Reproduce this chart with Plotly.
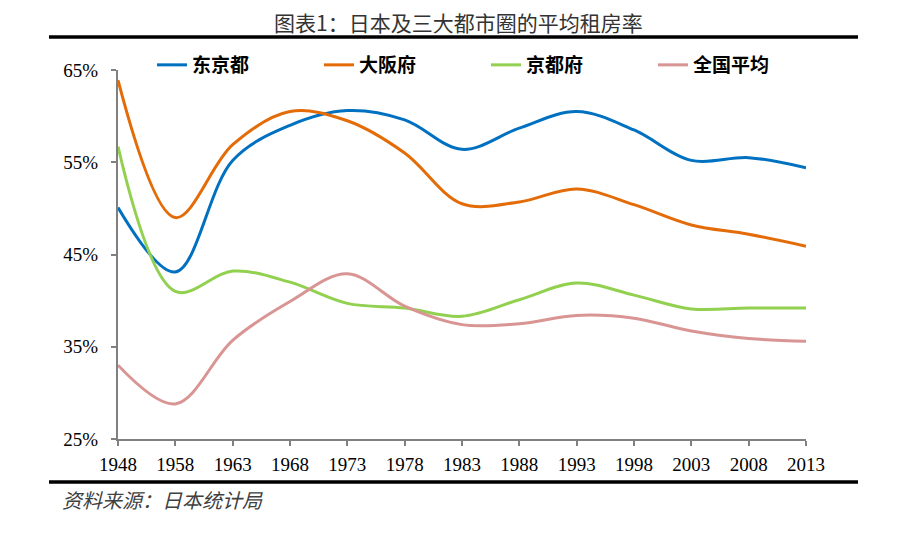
import plotly.graph_objects as go

years = ["1948", "1958", "1963", "1968", "1973", "1978", "1983", "1988", "1993", "1998", "2003", "2008", "2013"]
tokyo = [50.1, 43.1, 55.2, 59.0, 60.6, 59.6, 56.4, 58.7, 60.5, 58.5, 55.2, 55.5, 54.4]
osaka = [63.9, 49.0, 56.9, 60.5, 59.5, 56.0, 50.5, 50.7, 52.1, 50.4, 48.2, 47.2, 45.9]
kyoto = [56.7, 41.0, 43.2, 42.0, 39.7, 39.2, 38.3, 40.1, 41.9, 40.6, 39.1, 39.2, 39.2]
national = [33.0, 28.8, 35.7, 39.9, 42.9, 39.4, 37.4, 37.5, 38.4, 38.1, 36.7, 35.9, 35.6]

series_names = ["东京都", "大阪府", "京都府", "全国平均"]
series_values = [tokyo, osaka, kyoto, national]
colors = ["#0070C0", "#E36C09", "#92D050", "#D99594"]

title_text = "图表1：日本及三大都市圈的平均租房率"
source_text = "资料来源：日本统计局"

fig = go.Figure()
for name, vals, c in zip(series_names, series_values, colors):
    fig.add_trace(go.Scatter(
        x=years, y=vals, name=name, mode="lines",
        line=dict(color=c, width=3, shape="spline", smoothing=1.0),
    ))

# page body has an 8px margin; work in reference pixel coordinates minus that
OFF = 8
W, H = 898 - OFF, 546 - OFF
L, R, T, B = 118 - OFF, 806 - OFF, 70 - OFF, 439 - OFF
pw, ph = R - L, B - T

def px(x):
    return (x - OFF - L) / pw

def py(y):
    return (B - (y - OFF)) / ph

fig.update_layout(
    width=W, height=H,
    margin=dict(l=L, r=W - R, t=T, b=H - B),
    paper_bgcolor="white", plot_bgcolor="white",
    font=dict(family="Liberation Serif, Times New Roman, serif", size=19, color="black"),
    showlegend=True,
    legend=dict(
        orientation="h", x=px(152), xanchor="left", y=py(65), yanchor="middle",
        font=dict(family="Noto Sans CJK SC", size=19, color="black", weight="bold"),
        entrywidth=122, bgcolor="rgba(0,0,0,0)", tracegroupgap=0,
    ),
    xaxis=dict(
        type="category", range=[0, len(years) - 1],
        showline=True, linecolor="#808080", linewidth=2,
        ticks="outside", ticklen=5, tickcolor="#808080", tickwidth=2,
        showgrid=False, zeroline=False, ticklabelstandoff=2,
        tickfont=dict(family="Liberation Serif", size=19, color="black"),
    ),
    yaxis=dict(
        range=[25, 65], tickvals=[25, 35, 45, 55, 65],
        ticktext=["25%", "35%", "45%", "55%", "65%"],
        showline=True, linecolor="#808080", linewidth=2,
        ticks="outside", ticklen=5, tickcolor="#808080", tickwidth=2,
        showgrid=False, zeroline=False, ticklabelstandoff=9,
        tickfont=dict(family="Liberation Serif", size=19, color="black"),
    ),
)

# header and footer rules
for yy in (37, 482):
    fig.add_shape(type="line", xref="paper", yref="paper",
                  x0=px(49), x1=px(858), y0=py(yy), y1=py(yy),
                  line=dict(color="black", width=3.5))

fig.add_annotation(text=title_text, xref="paper", yref="paper",
                   x=px(458), y=py(22), xanchor="center", yanchor="middle",
                   showarrow=False, borderpad=0,
                   font=dict(family="Noto Sans CJK SC", size=21, color="#333333"))
fig.add_annotation(text="<i>" + source_text + "</i>", xref="paper", yref="paper",
                   x=px(60), y=py(500), xanchor="left", yanchor="middle",
                   showarrow=False,
                   font=dict(family="Noto Sans CJK SC", size=20, color="#404040"))

fig.write_html("out.html")
